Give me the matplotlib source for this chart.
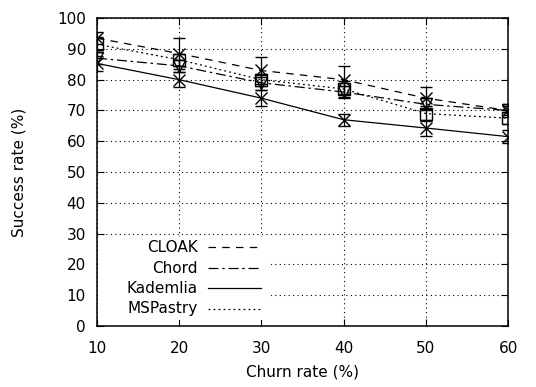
import matplotlib
matplotlib.use('Agg')
import matplotlib.pyplot as plt
from matplotlib.patches import Rectangle

churn = [10, 20, 30, 40, 50, 60]

cloak = [93.5, 88.5, 83.0, 80.0, 74.0, 70.0]
cloak_err = [2.0, 5.0, 4.5, 4.5, 3.5, 2.0]
chord = [87.0, 84.5, 79.0, 76.0, 72.0, 70.0]
chord_err = [2.0, 2.0, 2.5, 2.0, 2.0, 1.5]
kademlia = [85.3, 80.0, 74.0, 67.0, 64.3, 61.5]
kademlia_err = [2.5, 2.5, 2.5, 2.0, 2.5, 2.0]
mspastry = [91.5, 86.5, 80.0, 77.0, 69.0, 67.5]
mspastry_err = [2.5, 2.0, 2.0, 2.5, 2.5, 2.0]

names = ['CLOAK', 'Chord', 'Kademlia', 'MSPastry']
dashes = [(0, (6, 5)), (0, (8, 3, 2, 3)), '-', (0, (1.5, 2.5))]
markers = ['x', 'v', 'x', 's']

fig = plt.figure(figsize=(5.36, 3.87), dpi=100)
ax = fig.add_axes([0.181, 0.158, 0.767, 0.795])
ax.set_axisbelow(True)

style = dict(color='black', linewidth=0.9, capsize=4, elinewidth=0.9,
             markerfacecolor='none', markeredgecolor='black', markersize=9,
             zorder=3)

series = [(cloak, cloak_err), (chord, chord_err), (kademlia, kademlia_err),
          (mspastry, mspastry_err)]
for (vals, err), name, ls, m in zip(series, names, dashes, markers):
    ax.errorbar(churn, vals, yerr=err, linestyle=ls, marker=m, label=name, **style)

ax.set_xlim(10, 60)
ax.set_ylim(0, 100)
ax.set_xticks(churn)
ax.set_yticks(range(0, 101, 10))
ax.tick_params(direction='in', top=True, right=True, length=5, labelsize=11)
ax.tick_params(axis='x', pad=11)
ax.tick_params(axis='y', pad=8)
ax.grid(True, color='black', linestyle=(0, (1, 3)), linewidth=0.8)
for s in ax.spines.values():
    s.set_linewidth(1.1)

ax.set_xlabel('Churn rate (%)', fontsize=11, labelpad=6)
ax.set_ylabel('Success rate (%)', fontsize=11, labelpad=22)

# hand-made key, gnuplot style: text right-aligned, sample line to the right
ax.add_patch(Rectangle((0.003, 0.02), 0.42, 0.27, transform=ax.transAxes,
                       facecolor='white', edgecolor='none', zorder=1))
rows = [0.256, 0.188, 0.123, 0.055]
for name, ls, y in zip(names, dashes, rows):
    ax.text(0.245, y, name, transform=ax.transAxes, ha='right', va='center',
            fontsize=11, zorder=4)
    ax.plot([0.270, 0.398], [y, y], transform=ax.transAxes, color='black',
            linestyle=ls, linewidth=0.9, zorder=4)

fig.savefig('out.png', dpi=100)
